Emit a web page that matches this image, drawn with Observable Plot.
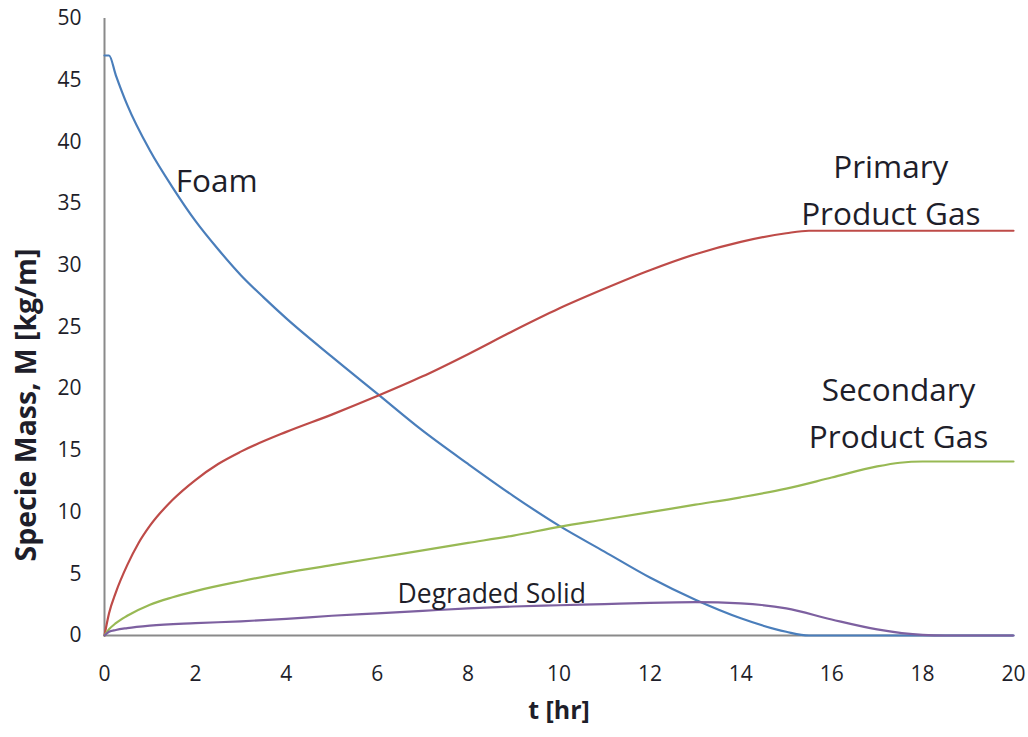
<!DOCTYPE html>
<html>
<head>
<meta charset="utf-8">
<script src="https://cdn.jsdelivr.net/npm/d3@7"></script>
<script src="https://cdn.jsdelivr.net/npm/@observablehq/plot@0.6"></script>
<style>
  html, body { margin: 0; padding: 0; background: #fff; }
  #chart svg { display: block; }
</style>
</head>
<body>
<div id="chart"></div>
<script>
// Species mass history during foam decomposition (mass per unit length, kg/m)
const foamHours = [0, 0.1, 0.25, 0.5, 1, 1.5, 2, 2.5, 3, 3.5, 4, 5, 6, 7, 8, 9, 10, 11, 12, 13, 14, 15, 15.5, 16, 18, 20];
const foamMass  = [47, 47, 45.4, 43, 39.3, 36.3, 33.6, 31.3, 29.2, 27.4, 25.7, 22.6, 19.6, 16.6, 13.9, 11.3, 8.9, 6.8, 4.7, 2.9, 1.4, 0.3, 0, 0, 0, 0];

const primaryHours = [0, 0.1, 0.25, 0.5, 0.75, 1, 1.5, 2, 2.5, 3, 4, 5, 6, 7, 8, 9, 10, 11, 12, 13, 14, 15, 15.5, 16, 18, 20];
const primaryMass  = [0, 1.8, 3.5, 5.7, 7.5, 8.9, 11.0, 12.6, 13.9, 14.9, 16.5, 17.9, 19.4, 21.0, 22.8, 24.7, 26.5, 28.1, 29.6, 30.9, 31.9, 32.6, 32.8, 32.8, 32.8, 32.8];

const secondaryHours = [0, 0.1, 0.25, 0.5, 1, 1.5, 2, 3, 4, 5, 6, 7, 8, 9, 10, 11, 12, 13, 14, 15, 16, 17, 17.5, 18, 19, 20];
const secondaryMass  = [0, 0.5, 1.0, 1.6, 2.5, 3.1, 3.6, 4.4, 5.1, 5.7, 6.3, 6.9, 7.5, 8.1, 8.8, 9.4, 10.0, 10.6, 11.2, 11.9, 12.8, 13.7, 14.0, 14.1, 14.1, 14.1];

const degradedHours = [0, 0.1, 0.25, 0.5, 1, 2, 3, 4, 5, 6, 7, 8, 9, 10, 11, 12, 13, 14, 15, 16, 17, 18, 18.5, 19, 20];
const degradedMass  = [0, 0.3, 0.45, 0.6, 0.8, 1.0, 1.15, 1.35, 1.6, 1.8, 2.0, 2.2, 2.35, 2.45, 2.55, 2.65, 2.7, 2.6, 2.2, 1.3, 0.5, 0.05, 0, 0, 0];

const seriesNames  = ["Foam", "Primary Product Gas", "Secondary Product Gas", "Degraded Solid"];
const seriesColors = ["#4a7ebb", "#be4b48", "#98b954", "#7d60a0"];

const xTicks = [0, 2, 4, 6, 8, 10, 12, 14, 16, 18, 20];
const yTicks = [0, 5, 10, 15, 20, 25, 30, 35, 40, 45, 50];

// Curve labels, anchored in data coordinates (hours, kg/m)
const bigLabels   = ["Foam", "Primary\nProduct Gas", "Secondary\nProduct Gas"];
const bigLabelT   = [2.47, 17.3, 17.47];
const bigLabelM   = [37.15, 36.4, 18.3];
const smallLabels = ["Degraded Solid"];
const smallLabelT = [8.52];
const smallLabelM = [3.35];

// Long-format table for the line mark
const columns = [
  [foamHours, foamMass],
  [primaryHours, primaryMass],
  [secondaryHours, secondaryMass],
  [degradedHours, degradedMass]
];
const rows = columns.flatMap(([hours, mass], i) =>
  hours.map((t, j) => ({ name: seriesNames[i], t, m: mass[j] }))
);
const bigNotes   = bigLabels.map((label, i) => ({ label, t: bigLabelT[i], m: bigLabelM[i] }));
const smallNotes = smallLabels.map((label, i) => ({ label, t: smallLabelT[i], m: smallLabelM[i] }));

const ink = "#1e1e2a";
const chart = Plot.plot({
  width: 1028,
  height: 737,
  marginLeft: 104,
  marginRight: 15,
  marginTop: 18,
  marginBottom: 102,
  style: { fontFamily: "'Open Sans', sans-serif", background: "#fff", color: ink },
  x: { domain: [0, 20] },
  y: { domain: [0, 50] },
  color: { domain: seriesNames, range: seriesColors },
  marks: [
    Plot.axisX(xTicks, { tickSize: 0, tickPadding: 31, fontSize: 21, label: null, fill: ink }),
    Plot.axisY(yTicks, { tickSize: 0, tickPadding: 23, fontSize: 21, label: null, fill: ink }),
    Plot.ruleX([0], { y1: 0, y2: 50, stroke: "#8a8a8a", strokeWidth: 2 }),
    Plot.ruleY([0], { x1: 0, x2: 20, stroke: "#8a8a8a", strokeWidth: 2 }),
    Plot.line(rows, { x: "t", y: "m", z: "name", stroke: "name", strokeWidth: 2.2, curve: "monotone-x" }),
    Plot.text(bigNotes, { x: "t", y: "m", text: "label", fontSize: 31.5, lineHeight: 1.5, fill: ink }),
    Plot.text(smallNotes, { x: "t", y: "m", text: "label", fontSize: 26.5, fill: ink }),
    Plot.text(["t [hr]"], { frameAnchor: "bottom", dy: 83, fontSize: 25, fontWeight: "bold", fill: ink }),
    Plot.text(["Specie Mass, M [kg/m]"], { frameAnchor: "left", textAnchor: "middle", dx: -78, dy: 78, rotate: -90, fontSize: 28.5, fontWeight: "bold", fill: ink })
  ]
});
document.getElementById("chart").append(chart);
</script>
</body>
</html>
